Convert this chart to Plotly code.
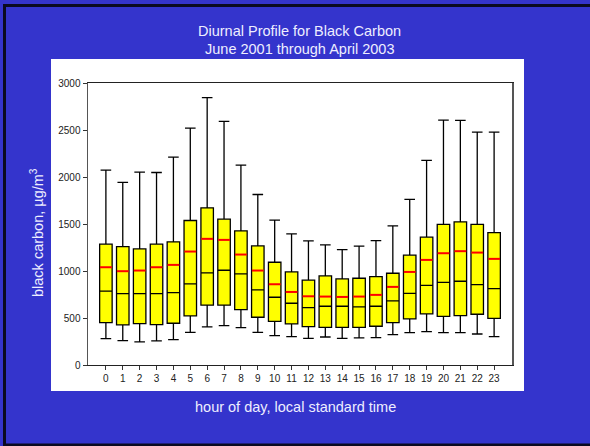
import plotly.graph_objects as go

hours = list(range(24))
tick_labels = [str(h) for h in hours]
upper_whisker = [2073, 1942, 2052, 2048, 2212, 2521, 2844, 2592, 2127, 1814, 1541, 1395,
                 1321, 1278, 1228, 1264, 1324, 1480, 1761, 2176, 2606, 2602, 2478, 2478]
q3_values = [1285, 1260, 1235, 1285, 1310, 1537, 1672, 1551, 1427, 1267, 1093, 990,
             902, 948, 916, 923, 941, 976, 1168, 1360, 1495, 1523, 1495, 1409]
mean_values = [1040, 998, 1005, 1040, 1065, 1207, 1342, 1331, 1175, 1005, 859, 777,
               731, 728, 724, 728, 746, 831, 990, 1118, 1189, 1211, 1196, 1129]
median_values = [785, 760, 760, 760, 770, 863, 980, 1008, 969, 799, 721, 657,
                 611, 625, 625, 618, 625, 682, 763, 848, 880, 891, 856, 813]
q1_values = [451, 426, 440, 430, 444, 522, 636, 636, 589, 508, 465, 437,
             408, 401, 401, 401, 412, 451, 490, 543, 518, 525, 540, 497]
lower_whisker = [280, 259, 245, 256, 270, 348, 405, 419, 398, 348, 312, 302,
                 284, 298, 284, 288, 291, 323, 344, 355, 344, 344, 330, 302]

W, H = 590, 446
L, R, T, B = 88, 512, 83, 365  # plot area in pixels
BOX_W = 0.74
FONT = "Liberation Sans, Arial, sans-serif"
BLUE = "#3434CC"
TXT = "#EEEEFF"


def px_x(x):
    return (x - L) / (R - L)


def px_y(y):
    return (B - y) / (B - T)


fig = go.Figure()
fig.add_trace(go.Box(
    x=hours, q1=q1_values, median=median_values, q3=q3_values,
    lowerfence=lower_whisker, upperfence=upper_whisker,
    width=BOX_W, whiskerwidth=0.85,
    fillcolor="#FFFF00", line=dict(color="#000000", width=1.3),
    boxpoints=False, showlegend=False, hoverinfo="skip",
))

mx, my = [], []
for h, m in zip(hours, mean_values):
    mx += [h - BOX_W / 2 + 0.02, h + BOX_W / 2 - 0.02, None]
    my += [m, m, None]
fig.add_trace(go.Scatter(x=mx, y=my, mode="lines",
                         line=dict(color="#FF0000", width=2),
                         showlegend=False, hoverinfo="skip"))

shapes = [
    # white panel
    dict(type="rect", xref="paper", yref="paper", layer="below",
         x0=px_x(51), x1=px_x(524), y0=px_y(391), y1=px_y(59),
         fillcolor="white", line=dict(width=0)),
    # dark border strips
    dict(type="rect", xref="paper", yref="paper",
         x0=px_x(3), x1=px_x(6), y0=px_y(446), y1=px_y(4),
         fillcolor="#0A0A20", line=dict(width=0)),
    dict(type="rect", xref="paper", yref="paper",
         x0=px_x(3), x1=px_x(590), y0=px_y(7), y1=px_y(4),
         fillcolor="#0A0A20", line=dict(width=0)),
    dict(type="rect", xref="paper", yref="paper",
         x0=px_x(3), x1=px_x(590), y0=px_y(446), y1=px_y(443.5),
         fillcolor="#0A0A20", line=dict(width=0)),
]

annotations = [
    dict(text="Diurnal Profile for Black Carbon", xref="paper", yref="paper",
         x=px_x(299), y=px_y(30.7), showarrow=False, xanchor="center", yanchor="middle",
         font=dict(family=FONT, size=14.5, color=TXT)),
    dict(text="June 2001 through April 2003", xref="paper", yref="paper",
         x=px_x(299), y=px_y(49), showarrow=False, xanchor="center", yanchor="middle",
         font=dict(family=FONT, size=14.5, color=TXT)),
    dict(text="hour of day, local standard time", xref="paper", yref="paper",
         x=px_x(295), y=px_y(407), showarrow=False, xanchor="center", yanchor="middle",
         font=dict(family=FONT, size=14.5, color=TXT)),
    dict(text="black carbon, µg/m<sup>3</sup>", xref="paper", yref="paper",
         x=px_x(37), y=px_y(233), showarrow=False, textangle=-90,
         xanchor="center", yanchor="middle",
         font=dict(family=FONT, size=14.5, color=TXT)),
]

fig.update_layout(
    width=W, height=H,
    margin=dict(l=L, r=W - R, t=T, b=H - B, pad=0),
    paper_bgcolor=BLUE, plot_bgcolor="white",
    shapes=shapes, annotations=annotations,
    showlegend=False,
    xaxis=dict(range=[-1.06, 24.06], tickmode="array",
               tickvals=hours, ticktext=tick_labels,
               ticks="outside", ticklen=4, tickcolor="#333333",
               showgrid=False, zeroline=False,
               showline=True, linecolor="#222222", linewidth=1, mirror=True,
               tickfont=dict(family=FONT, size=10, color="#222222")),
    yaxis=dict(range=[0, 3000], tickmode="array",
               tickvals=[0, 500, 1000, 1500, 2000, 2500, 3000],
               ticks="outside", ticklen=4, tickcolor="#333333",
               showgrid=False, zeroline=False,
               showline=True, linecolor="#555555", linewidth=1.5, mirror=True,
               tickfont=dict(family=FONT, size=10, color="#222222")),
)

fig.write_html(
    "out.html",
    config={"displayModeBar": False, "staticPlot": True},
    post_script="document.body.style.margin='0';document.body.style.overflow='hidden';",
)
